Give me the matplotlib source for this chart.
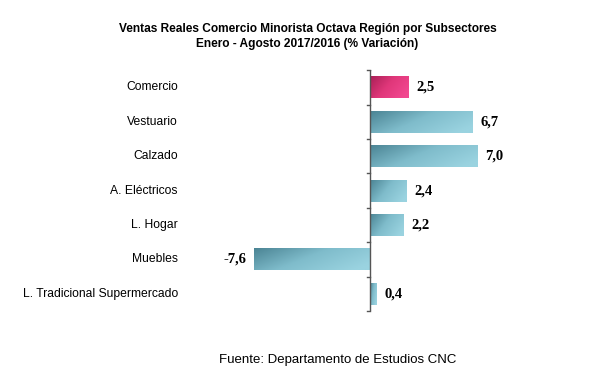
import numpy as np
import matplotlib
matplotlib.use("Agg")
import matplotlib.pyplot as plt
from matplotlib.colors import LinearSegmentedColormap
from matplotlib.patches import Rectangle

categories = ["Comercio", "Vestuario", "Calzado", "A. Eléctricos", "L. Hogar", "Muebles",
              "L. Tradicional Supermercado"]
values = [2.5, 6.7, 7.0, 2.4, 2.2, -7.6, 0.4]
labels = ["2,5", "6,7", "7,0", "2,4", "2,2", "-7,6", "0,4"]
title = "Ventas Reales Comercio Minorista Octava Región por Subsectores\nEnero - Agosto 2017/2016 (% Variación)"
footer = "Fuente: Departamento de Estudios CNC"

fig = plt.figure(figsize=(5.97, 3.73), dpi=100)
ax = fig.add_axes([0.390, 0.166, 0.461, 0.646])
n = len(categories)
ax.set_xlim(-9, 9)
ax.set_ylim(n - 0.5, -0.5)

teal = LinearSegmentedColormap.from_list("teal", ["#4a8393", "#7fbccb", "#9ad3e0"])
pink = LinearSegmentedColormap.from_list("pink", ["#a81f55", "#e0377a", "#f24890"])

h = 0.64
gx, gy = np.meshgrid(np.linspace(0, 1, 100), np.linspace(0, 1, 20))
grad = np.clip(0.75 * gx + 0.35 * gy, 0, 1)
for i, v in enumerate(values):
    cmap = pink if i == 0 else teal
    x0, x1 = min(0, v), max(0, v)
    im = ax.imshow(grad, cmap=cmap, extent=[x0, x1, i + h / 2, i - h / 2],
                   aspect="auto", interpolation="bilinear", origin="upper", zorder=2)
    rect = Rectangle((x0, i - h / 2), x1 - x0, h, transform=ax.transData,
                     facecolor="none", edgecolor="none")
    ax.add_patch(rect)
    im.set_clip_path(rect)
    if v >= 0:
        ax.text(v + 0.5, i, labels[i], ha="left", va="center", fontsize=10.5,
                fontweight="bold", family="Liberation Serif")
    else:
        ax.text(v - 0.5, i, labels[i], ha="right", va="center", fontsize=10.5,
                fontweight="bold", family="Liberation Serif")
    ax.text(-12.6, i, categories[i], ha="right", va="center", fontsize=8.7,
            family="Liberation Sans")

ax.set_ylim(n - 0.5, -0.5)
for s in ["top", "right", "bottom", "left"]:
    ax.spines[s].set_visible(False)
ax.axvline(0, color="#555555", lw=1, zorder=3)
ax.set_xticks([])
ax.set_yticks([])
for b in np.arange(-0.5, n, 1.0):
    ax.plot([-0.25, 0], [b, b], color="#555555", lw=1, clip_on=False, zorder=3)

fig.text(0.515, 0.903, title, ha="center", va="center", fontsize=8.6, fontweight="bold",
         family="Liberation Sans", linespacing=1.3)
fig.text(0.565, 0.035, footer, ha="center", va="center", fontsize=9.5, family="Liberation Sans")

fig.savefig("out.png", dpi=100)
